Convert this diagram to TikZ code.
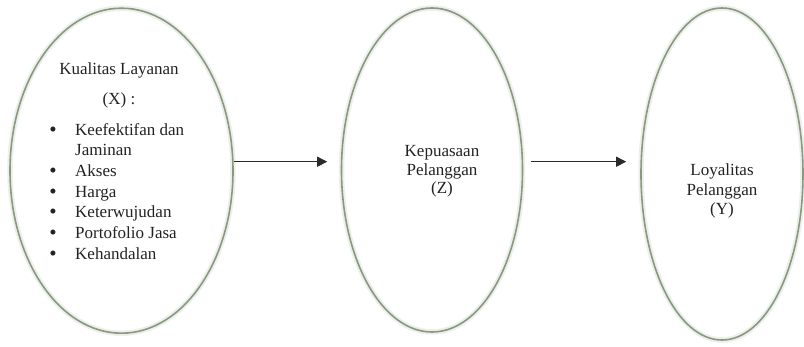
\documentclass[tikz,border=0pt]{standalone}
\usepackage{fontspec}
\setmainfont{Liberation Serif}
\usetikzlibrary{shapes.geometric,arrows.meta}
\definecolor{ringgrey}{HTML}{ECEFEF}
\definecolor{ringolive}{HTML}{8A9978}
\definecolor{txt}{HTML}{222222}
\definecolor{linecol}{HTML}{2A2A2A}
\begin{document}
\begin{tikzpicture}[x=1pt,y=-1pt,
  oval/.style={ellipse, draw=ringolive, line width=1.6pt, inner sep=0pt,
    preaction={draw=ringgrey, line width=5.5pt}},
  lbl/.style={text=txt, inner sep=0pt, font=\fontsize{17}{19}\selectfont},
  bul/.style={text=txt, inner sep=0pt, font=\fontsize{21}{21}\selectfont},
  conn/.style={draw=linecol, line width=1.1pt, -{Triangle[length=10pt,width=10pt]}}]
\useasboundingbox (0,0) rectangle (804,346);

\node[oval, minimum width=223pt, minimum height=325pt] (kl) at (121.5,170.7) {};
\node[oval, minimum width=181pt, minimum height=324pt] (kp) at (432,170) {};
\node[oval, minimum width=162pt, minimum height=332pt] (lp) at (722,174) {};

% Kualitas Layanan
\node[lbl, anchor=base] (kl1) at (119,74) {Kualitas Layanan};
\node[lbl, anchor=base] (kl2) at (119,104) {(X) :};
\node[bul, anchor=base] (b1) at (53,136) {•};
\node[lbl, anchor=base west] (i1) at (75,135) {Keefektifan dan};
\node[lbl, anchor=base west] (i1b) at (75,155.7) {Jaminan};
\node[bul, anchor=base] (b2) at (53,177.4) {•};
\node[lbl, anchor=base west] (i2) at (75,176.4) {Akses};
\node[bul, anchor=base] (b3) at (53,198) {•};
\node[lbl, anchor=base west] (i3) at (75,197) {Harga};
\node[bul, anchor=base] (b4) at (53,218.7) {•};
\node[lbl, anchor=base west] (i4) at (75,217.7) {Keterwujudan};
\node[bul, anchor=base] (b5) at (53,239.4) {•};
\node[lbl, anchor=base west] (i5) at (75,238.4) {Portofolio Jasa};
\node[bul, anchor=base] (b6) at (53,260) {•};
\node[lbl, anchor=base west] (i6) at (75,259) {Kehandalan};

% Kepuasaan Pelanggan
\node[lbl, anchor=base] (kz1) at (442,156.5) {Kepuasaan};
\node[lbl, anchor=base] (kz2) at (442,175) {Pelanggan};
\node[lbl, anchor=base] (kz3) at (442,193.5) {(Z)};

% Loyalitas Pelanggan
\node[lbl, anchor=base] (ly1) at (722,175) {Loyalitas};
\node[lbl, anchor=base] (ly2) at (722,195) {Pelanggan};
\node[lbl, anchor=base] (ly3) at (722,214.5) {(Y)};

% connectors
\draw[conn, shorten >=13.5pt] ([yshift=9pt]kl.east) -- ([yshift=9pt]kl.east -| kp.west);
\draw[conn, shorten <=7.5pt, shorten >=14pt] ([yshift=8.3pt]kp.east) -- ([yshift=8.3pt]kp.east -| lp.west);
\end{tikzpicture}
\end{document}
